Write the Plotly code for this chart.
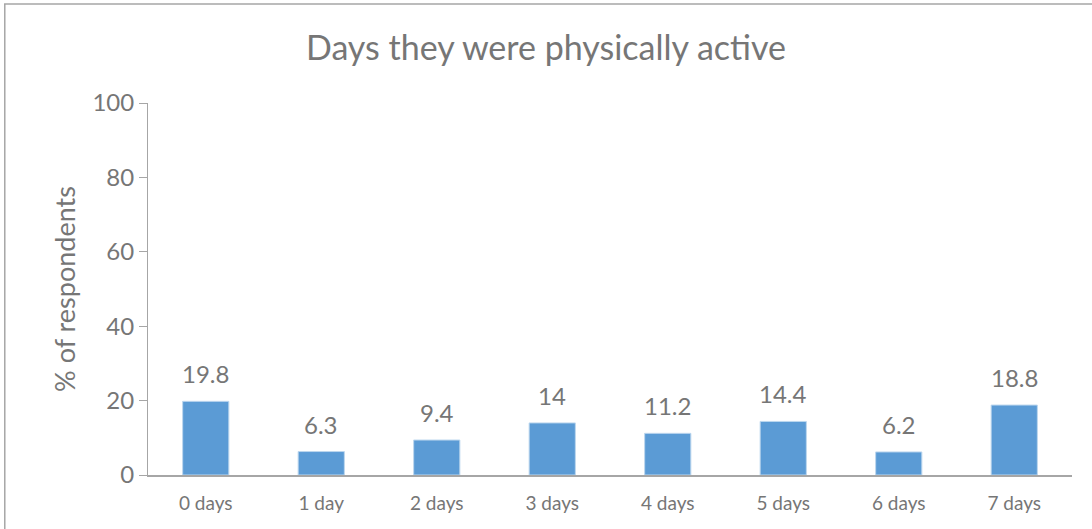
import plotly.graph_objects as go

# Data
categories = ['0 days', '1 day', '2 days', '3 days', '4 days', '5 days', '6 days', '7 days']
values = [19.8, 6.3, 9.4, 14, 11.2, 14.4, 6.2, 18.8]
y_ticks = [0, 20, 40, 60, 80, 100]

bar_color = '#5B9BD5'
text_color = '#767676'
axis_color = '#A6A6A6'
font_family = 'Lato, Open Sans, sans-serif'

fig = go.Figure()

fig.add_trace(go.Bar(
    x=categories,
    y=values,
    marker=dict(color=bar_color, line=dict(color='#BDD7EE', width=1)),
    width=0.4,
    hoverinfo='skip'
))

# data labels above the bars
for cat, v in zip(categories, values):
    fig.add_annotation(x=cat, y=v, text=f'{v:g}', showarrow=False,
                       yanchor='bottom', yshift=11,
                       font=dict(size=24, color=text_color, family=font_family))

fig.update_layout(
    title=dict(text='Days they were physically active', x=0.5, xanchor='center',
               y=0.91, yanchor='middle',
               font=dict(size=34, color=text_color, family=font_family)),
    width=1092,
    height=529,
    margin=dict(l=148, r=20, t=103, b=54),
    plot_bgcolor='white',
    paper_bgcolor='white',
    showlegend=False,
    font=dict(family=font_family, color=text_color),
)

fig.update_yaxes(
    range=[0, 100],
    tickvals=y_ticks,
    showgrid=False,
    zeroline=False,
    showline=True,
    linecolor=axis_color,
    linewidth=1,
    ticks='outside',
    ticklen=8,
    tickcolor=axis_color,
    tickfont=dict(size=24, color=text_color),
    title=dict(text='% of respondents', font=dict(size=27, color=text_color), standoff=8),
)

fig.update_xaxes(
    showgrid=False,
    showline=True,
    linecolor=axis_color,
    linewidth=1.5,
    ticks='',
    ticklabelstandoff=10,
    tickfont=dict(size=19, color=text_color),
)

# Outer chart border (only left and top edges fall inside the picture)
fig.add_shape(type='rect', xref='paper', yref='paper',
              x0=-0.155, x1=1.03, y0=-0.175, y1=1.266,
              line=dict(color='#A6A6A6', width=1.5), layer='below')

# drop the default 8px body margin so the figure fills the window exactly
fig.write_html('out.html', config={'displayModeBar': False},
               post_script="document.body.style.margin='0';document.body.style.overflow='hidden';")
